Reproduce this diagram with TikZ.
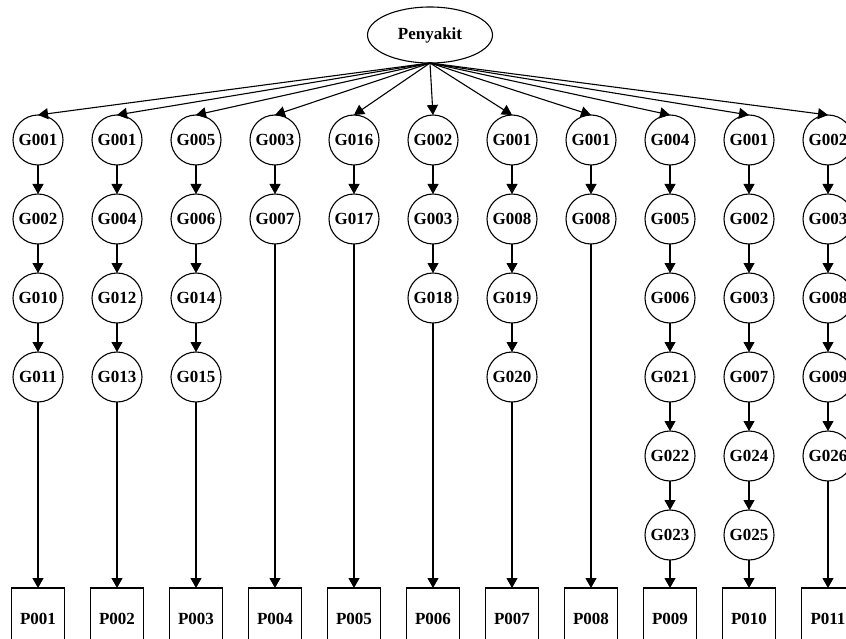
\documentclass[tikz,border=0pt]{standalone}
\usepackage{fontspec}
\setmainfont{Liberation Serif}
\usepackage{tikz}
\usetikzlibrary{shapes.geometric, arrows.meta, positioning}

\begin{document}
\begin{tikzpicture}[
    x=1pt, y=-1pt,
    node distance=29pt,
    gej/.style={circle, draw, line width=1.1pt, minimum size=50pt, inner sep=1pt, outer sep=0pt, font=\fontsize{17}{20}\selectfont\bfseries},
    pny/.style={rectangle, draw, line width=1.1pt, minimum width=53pt, minimum height=62pt, inner sep=1pt, outer sep=0pt, font=\fontsize{17}{20}\selectfont\bfseries},
    root/.style={ellipse, draw, line width=1.1pt, minimum width=125pt, minimum height=56pt, outer sep=0pt, font=\fontsize{17}{20}\selectfont\bfseries},
    arrow/.style={-{Triangle[length=10pt, width=11pt]}, line width=1.1pt}
]
\fill[white] (0,0) rectangle (846,639);
\clip (0,0) rectangle (846,639);

\node[root] (pen) at (430,35) {Penyakit};

% baris pertama gejala
\node[gej] (a1) at (38,140) {G001};
\node[gej, right=of a1] (b1) {G001};
\node[gej, right=of b1] (c1) {G005};
\node[gej, right=of c1] (d1) {G003};
\node[gej, right=of d1] (e1) {G016};
\node[gej, right=of e1] (f1) {G002};
\node[gej, right=of f1] (g1) {G001};
\node[gej, right=of g1] (h1) {G001};
\node[gej, right=of h1] (i1) {G004};
\node[gej, right=of i1] (j1) {G001};
\node[gej, right=of j1] (k1) {G002};

% kolom gejala
\node[gej, below=of a1] (a2) {G002};
\node[gej, below=of a2] (a3) {G010};
\node[gej, below=of a3] (a4) {G011};

\node[gej, below=of b1] (b2) {G004};
\node[gej, below=of b2] (b3) {G012};
\node[gej, below=of b3] (b4) {G013};

\node[gej, below=of c1] (c2) {G006};
\node[gej, below=of c2] (c3) {G014};
\node[gej, below=of c3] (c4) {G015};

\node[gej, below=of d1] (d2) {G007};

\node[gej, below=of e1] (e2) {G017};

\node[gej, below=of f1] (f2) {G003};
\node[gej, below=of f2] (f3) {G018};

\node[gej, below=of g1] (g2) {G008};
\node[gej, below=of g2] (g3) {G019};
\node[gej, below=of g3] (g4) {G020};

\node[gej, below=of h1] (h2) {G008};

\node[gej, below=of i1] (i2) {G005};
\node[gej, below=of i2] (i3) {G006};
\node[gej, below=of i3] (i4) {G021};
\node[gej, below=of i4] (i5) {G022};
\node[gej, below=of i5] (i6) {G023};

\node[gej, below=of j1] (j2) {G002};
\node[gej, below=of j2] (j3) {G003};
\node[gej, below=of j3] (j4) {G007};
\node[gej, below=of j4] (j5) {G024};
\node[gej, below=of j5] (j6) {G025};

\node[gej, below=of k1] (k2) {G003};
\node[gej, below=of k2] (k3) {G008};
\node[gej, below=of k3] (k4) {G009};
\node[gej, below=of k4] (k5) {G026};

% penyakit
\node[pny] (pa) at (38,619) {P001};
\node[pny, right=26pt of pa] (pb) {P002};
\node[pny, right=26pt of pb] (pc) {P003};
\node[pny, right=26pt of pc] (pd) {P004};
\node[pny, right=26pt of pd] (pe) {P005};
\node[pny, right=26pt of pe] (pf) {P006};
\node[pny, right=26pt of pf] (pg) {P007};
\node[pny, right=26pt of pg] (ph) {P008};
\node[pny, right=26pt of ph] (pi) {P009};
\node[pny, right=26pt of pi] (pj) {P010};
\node[pny, right=26pt of pj] (pk) {P011};

% panah dari akar
\foreach \c in {a,b,c,d,e,f,g,h,i,j,k}
    \draw[arrow] (pen.south) -- (\c1.north);

\draw[arrow] (a1) -- (a2);
\draw[arrow] (a2) -- (a3);
\draw[arrow] (a3) -- (a4);
\draw[arrow] (a4) -- (pa);

\draw[arrow] (b1) -- (b2);
\draw[arrow] (b2) -- (b3);
\draw[arrow] (b3) -- (b4);
\draw[arrow] (b4) -- (pb);

\draw[arrow] (c1) -- (c2);
\draw[arrow] (c2) -- (c3);
\draw[arrow] (c3) -- (c4);
\draw[arrow] (c4) -- (pc);

\draw[arrow] (d1) -- (d2);
\draw[arrow] (d2) -- (pd);

\draw[arrow] (e1) -- (e2);
\draw[arrow] (e2) -- (pe);

\draw[arrow] (f1) -- (f2);
\draw[arrow] (f2) -- (f3);
\draw[arrow] (f3) -- (pf);

\draw[arrow] (g1) -- (g2);
\draw[arrow] (g2) -- (g3);
\draw[arrow] (g3) -- (g4);
\draw[arrow] (g4) -- (pg);

\draw[arrow] (h1) -- (h2);
\draw[arrow] (h2) -- (ph);

\draw[arrow] (i1) -- (i2);
\draw[arrow] (i2) -- (i3);
\draw[arrow] (i3) -- (i4);
\draw[arrow] (i4) -- (i5);
\draw[arrow] (i5) -- (i6);
\draw[arrow] (i6) -- (pi);

\draw[arrow] (j1) -- (j2);
\draw[arrow] (j2) -- (j3);
\draw[arrow] (j3) -- (j4);
\draw[arrow] (j4) -- (j5);
\draw[arrow] (j5) -- (j6);
\draw[arrow] (j6) -- (pj);

\draw[arrow] (k1) -- (k2);
\draw[arrow] (k2) -- (k3);
\draw[arrow] (k3) -- (k4);
\draw[arrow] (k4) -- (k5);
\draw[arrow] (k5) -- (pk);

\end{tikzpicture}
\end{document}
